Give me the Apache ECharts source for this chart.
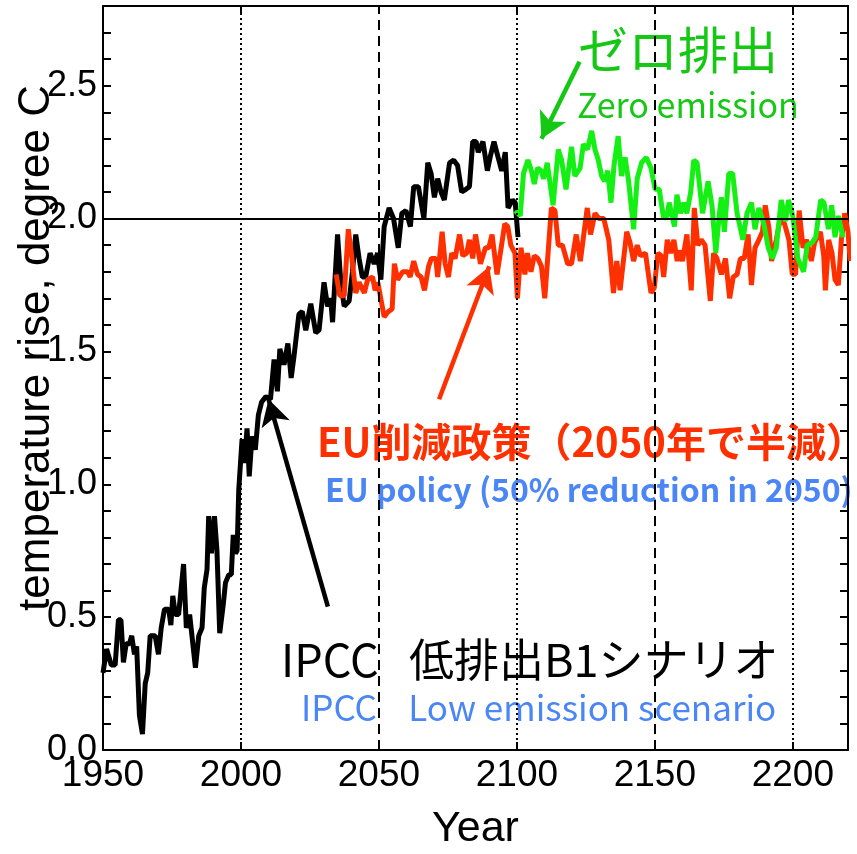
<!DOCTYPE html>
<html>
<head>
<meta charset="utf-8">
<script src="https://cdn.jsdelivr.net/npm/echarts@6/dist/echarts.min.js"></script>
<style>
  html, body { margin: 0; padding: 0; background: #fff; }
  #chart { width: 857px; height: 854px; }
</style>
</head>
<body>
<div id="chart"></div>
<script>
// IPCC low-emission (B1) scenario, historical + projection to 2100
const b1Years = [1950, 1951.3, 1953, 1954.4, 1955.6, 1956.5, 1957.4, 1958.4, 1959.6, 1960.4, 1961.4, 1962.2, 1963.2, 1964.3, 1965.3, 1966.2, 1967.1, 1968.9, 1970.1, 1971.1, 1972.3, 1973.8, 1974.6, 1975.3, 1976.2, 1977.4, 1979.2, 1980.2, 1981.4, 1983.5, 1984.7, 1985.9, 1986.7, 1987.7, 1988.3, 1989.3, 1990.4, 1991.3, 1992.3, 1993.5, 1994.4, 1995.6, 1996.5, 1997.2, 1998.0, 1998.6, 1999.2, 2000.4, 2001.3, 2002.2, 2003.0, 2004.0, 2005.2, 2006.3, 2007.5, 2009.0, 2010.7, 2012.0, 2013.2, 2014.1, 2015.6, 2017.0, 2018.2, 2019.2, 2021.0, 2022.2, 2023.5, 2025.3, 2027.1, 2028.3, 2030.1, 2031.4, 2032.5, 2033.2, 2035.0, 2036.2, 2037.4, 2039.2, 2040.4, 2041.6, 2042.8, 2044.0, 2045.2, 2046.8, 2048.3, 2049.5, 2050.7, 2051.9, 2053.7, 2055.3, 2057.0, 2058.3, 2059.8, 2061.4, 2062.6, 2064.3, 2066.3, 2067.7, 2068.9, 2070.1, 2071.3, 2072.5, 2073.7, 2075.6, 2077.1, 2078.5, 2080.0, 2081.5, 2082.8, 2084.0, 2085.2, 2086.0, 2087.7, 2089.3, 2090.5, 2091.7, 2093.2, 2094.5, 2095.8, 2096.8, 2098.4, 2099.4, 2100.4];
const b1Temps = [0.29, 0.38, 0.32, 0.32, 0.49, 0.49, 0.33, 0.40, 0.40, 0.43, 0.36, 0.39, 0.13, 0.06, 0.25, 0.29, 0.43, 0.43, 0.36, 0.46, 0.53, 0.53, 0.47, 0.58, 0.51, 0.51, 0.70, 0.46, 0.51, 0.31, 0.43, 0.46, 0.61, 0.68, 0.88, 0.74, 0.88, 0.75, 0.44, 0.54, 0.63, 0.66, 0.66, 0.81, 0.74, 0.75, 0.98, 1.17, 1.08, 1.21, 1.03, 1.18, 1.13, 1.26, 1.31, 1.33, 1.32, 1.47, 1.35, 1.51, 1.45, 1.53, 1.40, 1.48, 1.64, 1.65, 1.58, 1.68, 1.57, 1.58, 1.76, 1.67, 1.70, 1.61, 1.94, 1.76, 1.67, 1.69, 1.80, 1.94, 1.85, 1.78, 1.78, 1.87, 1.83, 1.87, 1.77, 1.97, 2.04, 2.00, 1.89, 2.02, 2.03, 1.97, 2.12, 2.12, 2.00, 2.21, 2.17, 2.08, 2.15, 2.10, 2.07, 2.21, 2.22, 2.20, 2.10, 2.11, 2.12, 2.29, 2.29, 2.25, 2.29, 2.18, 2.24, 2.29, 2.23, 2.18, 2.25, 2.04, 2.07, 2.06, 1.93];

// EU policy: 50% emission cut by 2050
const euYears = [2034.5, 2035.8, 2037.4, 2038.9, 2040.0, 2041.6, 2042.8, 2044.7, 2045.9, 2047.7, 2048.6, 2049.6, 2051.9, 2053.4, 2054.8, 2055.6, 2056.8, 2058.6, 2060.4, 2061.3, 2062.6, 2064.0, 2065.3, 2066.5, 2068.0, 2069.0, 2070.6, 2071.3, 2072.9, 2074.0, 2075.2, 2076.4, 2077.6, 2079.2, 2080.4, 2081.8, 2082.8, 2084.0, 2085.0, 2086.8, 2088.6, 2089.8, 2091.0, 2092.8, 2094.3, 2095.6, 2096.7, 2097.8, 2099.3, 2100.2, 2101.5, 2102.9, 2103.8, 2105.1, 2106.3, 2107.6, 2108.9, 2110.1, 2112.5, 2113.8, 2115.0, 2116.5, 2118.4, 2119.8, 2121.5, 2123.0, 2125.5, 2126.7, 2128.3, 2129.7, 2131.5, 2133.3, 2135.0, 2136.2, 2137.4, 2138.6, 2139.8, 2141.0, 2142.3, 2143.6, 2144.8, 2146.6, 2148.6, 2149.8, 2151.1, 2152.3, 2153.2, 2154.5, 2155.7, 2156.9, 2158.1, 2158.8, 2160.0, 2161.6, 2163.2, 2164.3, 2165.6, 2166.8, 2168.2, 2170.1, 2171.3, 2172.5, 2174.1, 2175.6, 2177.1, 2178.4, 2179.8, 2181.0, 2182.4, 2183.8, 2185.0, 2186.3, 2187.7, 2189.0, 2190.0, 2191.4, 2192.3, 2194.0, 2195.5, 2197.0, 2198.6, 2199.8, 2201.0, 2202.3, 2203.7, 2205.0, 2206.7, 2207.9, 2210.0, 2211.2, 2211.8, 2213.0, 2214.2, 2215.3, 2216.5, 2217.6, 2218.8, 2220.0, 2220.8];
const euTemps = [1.79, 1.71, 1.71, 1.96, 1.87, 1.72, 1.76, 1.72, 1.77, 1.78, 1.73, 1.76, 1.63, 1.65, 1.66, 1.83, 1.77, 1.80, 1.80, 1.78, 1.84, 1.79, 1.78, 1.73, 1.82, 1.85, 1.85, 1.78, 1.95, 1.83, 1.78, 1.87, 1.85, 1.94, 1.86, 1.87, 1.92, 1.85, 1.94, 1.83, 1.89, 1.89, 1.94, 1.79, 1.89, 1.98, 1.97, 1.90, 1.87, 1.70, 1.89, 1.79, 1.87, 1.80, 1.86, 1.85, 1.82, 1.70, 2.04, 2.03, 1.90, 1.90, 1.83, 1.83, 1.94, 1.84, 2.04, 1.94, 2.02, 2.00, 2.00, 1.92, 1.72, 1.84, 1.73, 1.84, 1.95, 1.91, 1.84, 1.90, 1.86, 1.87, 1.72, 1.74, 1.87, 1.86, 1.78, 1.92, 1.87, 1.92, 1.84, 1.88, 1.84, 1.94, 1.73, 2.04, 1.90, 1.92, 1.90, 1.69, 1.87, 1.85, 1.79, 1.85, 1.70, 1.78, 1.79, 1.85, 1.85, 1.94, 1.75, 1.89, 1.92, 1.95, 2.05, 1.96, 1.84, 1.92, 2.00, 1.98, 1.92, 1.79, 1.79, 2.03, 1.89, 1.92, 1.84, 1.91, 1.95, 1.86, 1.73, 1.92, 1.87, 1.77, 1.75, 1.92, 2.02, 1.95, 1.84];

// Zero emission after 2100
const zeroYears = [2099.4, 2101.2, 2102.4, 2104.0, 2105.3, 2106.3, 2107.5, 2108.8, 2109.7, 2111.0, 2113.1, 2115.0, 2116.2, 2117.8, 2119.8, 2121.0, 2122.9, 2124.1, 2125.6, 2127.1, 2128.3, 2129.5, 2130.7, 2131.8, 2132.9, 2134.1, 2135.2, 2136.7, 2137.9, 2139.2, 2140.5, 2142.3, 2143.6, 2145.2, 2146.9, 2148.6, 2150.1, 2151.6, 2153.2, 2154.4, 2155.2, 2157.1, 2158.0, 2159.3, 2160.5, 2161.6, 2163.0, 2164.1, 2165.3, 2167.3, 2169.3, 2170.7, 2172.1, 2173.4, 2174.1, 2175.2, 2176.8, 2178.2, 2179.8, 2181.9, 2183.4, 2185.0, 2186.3, 2187.7, 2189.5, 2191.1, 2192.6, 2194.0, 2195.8, 2197.4, 2198.4, 2200.0, 2201.8, 2203.9, 2205.2, 2207.0, 2208.3, 2210.1, 2211.3, 2212.9, 2214.1, 2215.3, 2216.5, 2218.2];
const zeroTemps = [2.03, 2.01, 2.17, 2.22, 2.18, 2.13, 2.19, 2.18, 2.15, 2.21, 2.05, 2.26, 2.22, 2.11, 2.27, 2.16, 2.19, 2.28, 2.26, 2.33, 2.26, 2.22, 2.16, 2.14, 2.18, 2.06, 2.20, 2.31, 2.16, 2.23, 2.14, 1.96, 2.15, 2.21, 2.23, 2.19, 2.11, 2.11, 2.00, 2.01, 2.06, 1.97, 2.09, 2.02, 2.06, 2.02, 2.10, 2.22, 2.21, 2.02, 2.14, 2.05, 1.87, 2.02, 2.08, 1.95, 2.17, 2.17, 2.02, 1.92, 2.02, 2.06, 1.96, 2.04, 1.98, 1.89, 1.85, 1.89, 2.07, 1.99, 2.07, 2.01, 1.85, 1.80, 1.90, 1.91, 1.93, 2.07, 2.06, 1.96, 2.05, 1.93, 2.01, 1.93];

// Axis ticks
const yearTicks = ['1950', '2000', '2050', '2100', '2150', '2200'];
const tempTicks = ['0.0', '0.5', '1.0', '1.5', '2.0', '2.5'];

// Reference lines: dotted at century marks, dashed at mid-century
const dottedYears = [2000, 2100, 2200];
const dashedYears = [2050, 2150];
const thresholdTemp = 2.0;

// Annotation arrows [fromYear, fromTemp, toYear, toTemp]
const b1Arrow = [2031.5, 0.54, 2010.0, 1.32];
const euArrow = [2071.8, 1.32, 2090.0, 1.82];
const zeroArrow = [2122.7, 2.59, 2108.9, 2.30];

const zip = (xs, ys) => xs.map((x, i) => [x, ys[i]]);

const chart = echarts.init(document.getElementById('chart'), null, { renderer: 'canvas' });

const labelFont = 'Liberation Sans, Arial, sans-serif';
const jpFont = '"Noto Sans CJK JP", "Noto Sans", sans-serif';
const frameLine = { show: true, onZero: false, lineStyle: { color: '#000', width: 2 } };
const innerTick = { show: true, inside: true, length: 8, lineStyle: { color: '#000', width: 2 } };

function arrowLine(a, color) {
  return {
    silent: true,
    animation: false,
    symbol: ['none', 'arrow'],
    symbolSize: [22, 26],
    label: { show: false },
    lineStyle: { color: color, width: 4.5, type: 'solid' },
    emphasis: { disabled: true },
    data: [[{ coord: [a[0], a[1]] }, { coord: [a[2], a[3]] }]]
  };
}

function note(x, y, text, color, font) {
  return {
    type: 'text', x: x, y: y,
    style: { text: text, fill: color, font: font, textAlign: 'left', textVerticalAlign: 'middle' }
  };
}

const option = {
  animation: false,
  backgroundColor: '#fff',
  grid: { left: 103, right: 9, top: 6, bottom: 104, containLabel: false, outerBoundsMode: 'none' },
  xAxis: [
    {
      type: 'value', min: 1950, max: 2220, interval: 50, position: 'bottom',
      axisLine: frameLine,
      axisTick: innerTick,
      axisLabel: {
        show: true, margin: 7, color: '#000', fontSize: 37, fontFamily: labelFont,
        formatter: v => yearTicks[Math.round((v - 1950) / 50)] || ''
      },
      splitLine: { show: false },
      name: 'Year', nameLocation: 'middle', nameGap: 58,
      nameTextStyle: { color: '#000', fontSize: 43, fontFamily: labelFont }
    },
    {
      type: 'value', min: 1950, max: 2220, interval: 50, position: 'top',
      axisLine: frameLine,
      axisTick: innerTick,
      axisLabel: { show: false },
      splitLine: { show: false }
    }
  ],
  yAxis: [
    {
      type: 'value', min: 0, max: 2.8, interval: 0.1, position: 'left',
      axisLine: frameLine,
      axisTick: innerTick,
      axisLabel: {
        show: true, margin: 6, color: '#000', fontSize: 36, fontFamily: labelFont,
        formatter: v => {
          const k = Math.round(v * 10);
          return k % 5 === 0 ? (tempTicks[k / 5] || '') : '';
        }
      },
      splitLine: { show: false }
    },
    {
      type: 'value', min: 0, max: 2.8, interval: 0.1, position: 'right',
      axisLine: frameLine,
      axisTick: innerTick,
      axisLabel: { show: false },
      splitLine: { show: false }
    }
  ],
  graphic: [
    {
      type: 'text', x: 37, y: 348, rotation: Math.PI / 2,
      style: { text: 'temperature rise, degree C', fill: '#000', font: '44px ' + labelFont, textAlign: 'center', textVerticalAlign: 'middle' }
    },
    note(578, 50, 'ゼロ排出', '#14c814', '50px ' + jpFont),
    note(577, 105, 'Zero emission', '#14c814', '34px ' + jpFont),
    note(317, 442, 'EU削減政策（2050年で半減）', '#ff3000', 'bold 40px ' + jpFont),
    note(325, 490, 'EU policy (50% reduction in 2050)', '#4a86f5', 'bold 32px ' + jpFont),
    note(281, 660, 'IPCC   低排出B1シナリオ', '#000', '45px ' + jpFont),
    note(301, 708, 'IPCC    Low emission scenario', '#4a86f5', '35px ' + jpFont)
  ],
  series: [
    {
      name: 'guides', type: 'line', data: [], silent: true,
      markLine: {
        silent: true, symbol: ['none', 'none'], label: { show: false }, animation: false,
        emphasis: { disabled: true },
        data: [
          ...dottedYears.map(y => ({ xAxis: y, lineStyle: { type: [2, 3], color: '#000', width: 2 } })),
          ...dashedYears.map(y => ({ xAxis: y, lineStyle: { type: [10, 6], color: '#000', width: 2 } })),
          { yAxis: thresholdTemp, lineStyle: { type: 'solid', color: '#000', width: 2 } }
        ]
      }
    },
    {
      name: 'IPCC B1', type: 'line', data: zip(b1Years, b1Temps), showSymbol: false,
      lineStyle: { color: '#000', width: 5 }, itemStyle: { color: '#000' },
      markLine: arrowLine(b1Arrow, '#000'), z: 3
    },
    {
      name: 'EU policy', type: 'line', data: zip(euYears, euTemps), showSymbol: false,
      lineStyle: { color: '#ff3000', width: 5 }, itemStyle: { color: '#ff3000' },
      markLine: arrowLine(euArrow, '#ff3000'), z: 3
    },
    {
      name: 'Zero emission', type: 'line', data: zip(zeroYears, zeroTemps), showSymbol: false,
      lineStyle: { color: '#14f014', width: 5 }, itemStyle: { color: '#14f014' },
      markLine: arrowLine(zeroArrow, '#14c814'), z: 3
    }
  ]
};

chart.setOption(option);
</script>
</body>
</html>
